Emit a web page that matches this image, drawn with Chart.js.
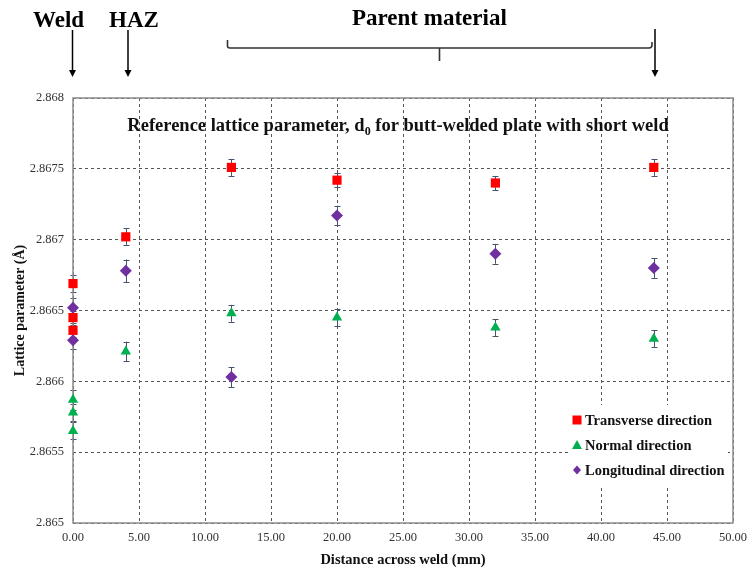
<!DOCTYPE html>
<html>
<head>
<meta charset="utf-8">
<script src="https://cdn.jsdelivr.net/npm/chart.js@4.4.0/dist/chart.umd.min.js"></script>
<style>
  html, body { margin: 0; padding: 0; background: #fff; }
  #wrap { width: 747px; height: 569px; }
</style>
</head>
<body>
<div id="wrap"><canvas id="latticeChart" width="747" height="569"></canvas></div>
<script>
// data
var transX   = [0, 0, 0, 4, 12, 20, 32, 44];
var transY   = [2.86669, 2.86645, 2.86636, 2.86702, 2.86751, 2.86742, 2.86740, 2.86751];
var transErr = [0.00006, 0.00005, 0.00005, 0.00006, 0.00006, 0.00005, 0.00005, 0.00006];

var normX   = [0, 0, 0, 4, 12, 20, 32, 44];
var normY   = [2.86587, 2.86578, 2.86565, 2.86621, 2.86648, 2.86645, 2.86638, 2.86630];
var normErr = [0.00007, 0.00006, 0.00006, 0.00007, 0.00006, 0.00006, 0.00006, 0.00006];

var longX   = [0, 0, 4, 12, 20, 32, 44];
var longY   = [2.86652, 2.86629, 2.86678, 2.86603, 2.86717, 2.86690, 2.86680];
var longErr = [0.00007, 0.00006, 0.00008, 0.00007, 0.00007, 0.00007, 0.00007];

var seriesLabels = ["Transverse direction", "Normal direction", "Longitudinal direction"];
var chartTitle = ["Reference lattice parameter, d", "0", " for butt-welded plate with short weld"];
var regionLabels = ["Weld", "HAZ", "Parent material"];

var serif = "'Liberation Serif', 'Times New Roman', serif";

function toPoints(xs, ys) {
    return xs.map(function(x, i) { return {x: x, y: ys[i]}; });
}

// error bars, drawn under the markers
var errorBars = {
    id: 'errorBars',
    beforeDatasetsDraw: function(chart) {
        var ctx = chart.ctx;
        var ys = chart.scales.y;
        ctx.save();
        ctx.strokeStyle = '#44546a';
        ctx.lineWidth = 1;
        chart.data.datasets.forEach(function(ds, di) {
            var meta = chart.getDatasetMeta(di);
            meta.data.forEach(function(pt, i) {
                var v = ds.data[i].y, e = ds.errors[i];
                var y1 = ys.getPixelForValue(v - e), y2 = ys.getPixelForValue(v + e);
                var x = Math.round(pt.x) + 0.5;
                ctx.beginPath();
                ctx.moveTo(x, y1); ctx.lineTo(x, y2);
                ctx.moveTo(x - 3, Math.round(y1) + 0.5); ctx.lineTo(x + 3, Math.round(y1) + 0.5);
                ctx.moveTo(x - 3, Math.round(y2) + 0.5); ctx.lineTo(x + 3, Math.round(y2) + 0.5);
                ctx.stroke();
            });
        });
        ctx.restore();
    }
};

// frame, legend box, inner title and the region notes above the plot
var decorations = {
    id: 'decorations',
    beforeDatasetsDraw: function(chart) {
        var ctx = chart.ctx, a = chart.chartArea;
        ctx.save();
        // white legend box covering the grid
        ctx.fillStyle = '#fff';
        ctx.fillRect(570, 405, 158, 80);
        ctx.strokeStyle = '#8c8c8c';
        ctx.lineWidth = 1.5;
        ctx.strokeRect(a.left, a.top, a.right - a.left, a.bottom - a.top);
        ctx.restore();
    },
    afterDraw: function(chart) {
        var ctx = chart.ctx, a = chart.chartArea;
        ctx.save();
        ctx.fillStyle = '#111';
        ctx.textBaseline = 'alphabetic';

        // title with subscript
        ctx.font = 'bold 18.5px ' + serif;
        var w0 = ctx.measureText(chartTitle[0]).width;
        var w2 = ctx.measureText(chartTitle[2]).width;
        ctx.font = 'bold 12px ' + serif;
        var w1 = ctx.measureText(chartTitle[1]).width;
        var tx = 398 - (w0 + w1 + w2) / 2, ty = 131;
        ctx.font = 'bold 18.5px ' + serif;
        ctx.fillText(chartTitle[0], tx, ty);
        ctx.font = 'bold 12px ' + serif;
        ctx.fillText(chartTitle[1], tx + w0, ty + 4);
        ctx.font = 'bold 18.5px ' + serif;
        ctx.fillText(chartTitle[2], tx + w0 + w1, ty);

        // legend
        var rows = [420, 445, 470];
        chart.data.datasets.forEach(function(ds, i) {
            var y = rows[i], x = 577;
            ctx.fillStyle = ds.backgroundColor;
            ctx.beginPath();
            if (i === 0) {
                ctx.rect(x - 4.5, y - 4.5, 9, 9);
            } else if (i === 1) {
                ctx.moveTo(x, y - 5); ctx.lineTo(x + 5, y + 4); ctx.lineTo(x - 5, y + 4); ctx.closePath();
            } else {
                ctx.moveTo(x, y - 4.5); ctx.lineTo(x + 4, y); ctx.lineTo(x, y + 4.5); ctx.lineTo(x - 4, y); ctx.closePath();
            }
            ctx.fill();
            ctx.fillStyle = '#111';
            ctx.font = 'bold 14.5px ' + serif;
            ctx.textBaseline = 'middle';
            ctx.fillText(ds.label, 585, y + 1);
        });

        // region notes
        ctx.textBaseline = 'alphabetic';
        ctx.font = 'bold 23px ' + serif;
        ctx.fillStyle = '#000';
        ctx.fillText(regionLabels[0], 33, 27);
        ctx.fillText(regionLabels[1], 109, 27);
        ctx.fillText(regionLabels[2], 352, 25);

        ctx.strokeStyle = '#000';
        ctx.lineWidth = 1.5;
        function arrow(x, y1, y2) {
            ctx.beginPath();
            ctx.moveTo(x, y1); ctx.lineTo(x, y2 - 6);
            ctx.stroke();
            ctx.beginPath();
            ctx.moveTo(x - 3.5, y2 - 7); ctx.lineTo(x + 3.5, y2 - 7); ctx.lineTo(x, y2); ctx.closePath();
            ctx.fillStyle = '#000';
            ctx.fill();
        }
        arrow(72.5, 30, 77);
        arrow(128, 30, 77);
        arrow(655, 29, 77);

        // brace over the parent material
        ctx.lineWidth = 1.6;
        ctx.strokeStyle = '#333';
        ctx.beginPath();
        ctx.moveTo(227.5, 40);
        ctx.lineTo(227.5, 46);
        ctx.quadraticCurveTo(227.5, 48, 230, 48);
        ctx.lineTo(649, 48);
        ctx.quadraticCurveTo(652, 48, 652, 45);
        ctx.lineTo(652, 42);
        ctx.moveTo(439.5, 48);
        ctx.lineTo(439.5, 61);
        ctx.stroke();
        ctx.restore();
    }
};

var canvas = document.getElementById("latticeChart");

new Chart(canvas, {
    type: 'scatter',
    plugins: [errorBars, decorations],
    data: {
        datasets: [{
            label: seriesLabels[0],
            data: toPoints(transX, transY),
            errors: transErr,
            pointStyle: 'rect',
            pointRadius: 6.5,
            backgroundColor: '#ff0000',
            borderColor: '#ff0000',
            borderWidth: 0,
            clip: false
        }, {
            label: seriesLabels[1],
            data: toPoints(normX, normY),
            errors: normErr,
            pointStyle: 'triangle',
            pointRadius: 6,
            backgroundColor: '#00b050',
            borderColor: '#00b050',
            borderWidth: 0,
            clip: false
        }, {
            label: seriesLabels[2],
            data: toPoints(longX, longY),
            errors: longErr,
            pointStyle: 'rectRot',
            pointRadius: 6,
            backgroundColor: '#7030a0',
            borderColor: '#7030a0',
            borderWidth: 0,
            clip: false
        }]
    },
    options: {
        responsive: false,
        animation: false,
        maintainAspectRatio: false,
        layout: { padding: { top: 98, left: 0, right: 14, bottom: 0 } },
        plugins: {
            legend: { display: false },
            title: { display: false },
            tooltip: { enabled: false }
        },
        scales: {
            x: {
                type: 'linear',
                min: 0, max: 50,
                ticks: {
                    stepSize: 5,
                    padding: 7,
                    color: '#333',
                    font: { family: serif, size: 12.5 },
                    callback: function(v) { return v.toFixed(2); }
                },
                grid: { color: '#555', lineWidth: 1, drawTicks: false },
                border: { display: false, dash: [3, 3] },
                title: {
                    display: true,
                    text: 'Distance across weld (mm)',
                    color: '#111',
                    font: { family: serif, size: 14.5, weight: 'bold' },
                    padding: { top: 0, bottom: 0 }
                },
                afterFit: function(s) { s.height = 46; s.paddingLeft = 0; s.paddingRight = 0; }
            },
            y: {
                min: 2.865, max: 2.868,
                ticks: {
                    stepSize: 0.0005,
                    padding: 9,
                    color: '#333',
                    font: { family: serif, size: 12.5 },
                    callback: function(v) { return String(parseFloat(v.toFixed(4))); }
                },
                grid: { color: '#555', lineWidth: 1, drawTicks: false },
                border: { display: false, dash: [3, 3] },
                title: {
                    display: true,
                    text: 'Lattice parameter (Å)',
                    color: '#111',
                    font: { family: serif, size: 14, weight: 'bold' },
                    padding: { top: 12, bottom: 4 }
                },
                afterFit: function(s) { s.width = 73; }
            }
        }
    }
});
</script>
</body>
</html>
